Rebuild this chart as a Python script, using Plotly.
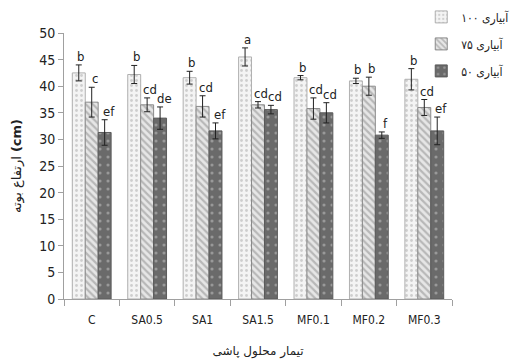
import plotly.graph_objects as go

categories = ["C", "SA0.5", "SA1", "SA1.5", "MF0.1", "MF0.2", "MF0.3"]
series_names = ["آبیاری ۱۰۰", "آبیاری ۷۵", "آبیاری ۵۰"]

irr100 = [42.5, 42.2, 41.6, 45.5, 41.6, 41.0, 41.3]
irr75 = [37.0, 36.5, 36.2, 36.5, 35.8, 40.0, 36.0]
irr50 = [31.3, 34.0, 31.6, 35.6, 35.0, 30.8, 31.6]

err100 = [1.5, 1.7, 1.2, 1.7, 0.4, 0.5, 2.0]
err75 = [2.8, 1.3, 2.0, 0.6, 2.0, 1.7, 1.5]
err50 = [2.4, 2.1, 1.5, 0.8, 1.9, 0.6, 2.6]

letters100 = ["b", "b", "b", "a", "b", "b", "b"]
letters75 = ["c", "cd", "cd", "cd", "cd", "b", "cd"]
letters50 = ["ef", "de", "ef", "cd", "cd", "f", "ef"]

values = [irr100, irr75, irr50]
errors = [err100, err75, err50]
letters = [letters100, letters75, letters50]

styles = [
    dict(color="#ffffff", line=dict(color="#b0b0b0", width=1),
         pattern=dict(shape=".", fgcolor="#a8a8a8", bgcolor="#f4f4f4", size=5, solidity=0.25)),
    dict(color="#d8d8d8", line=dict(color="#8a8a8a", width=1),
         pattern=dict(shape="\\", fgcolor="#8a8a8a", bgcolor="#e6e6e6", size=5, solidity=0.45)),
    dict(color="#707070", line=dict(color="#5a5a5a", width=1),
         pattern=dict(shape=".", fgcolor="#c8c8c8", bgcolor="#6a6a6a", size=8, solidity=0.12)),
]

fig = go.Figure()
for i in range(3):
    fig.add_trace(go.Bar(
        x=categories, y=values[i], name=series_names[i], legendgroup=f"g{i}",
        marker=styles[i],
        error_y=dict(type="data", array=errors[i], color="#222222", thickness=1, width=3),
    ))

bargap = 0.3
cat_px = (452 - 64) / len(categories)
bar_px = cat_px * (1 - bargap) / 3
for i in range(3):
    for j, c in enumerate(categories):
        fig.add_annotation(
            x=c, y=values[i][j] + errors[i][j], xref="x", yref="y",
            text=letters[i][j], showarrow=False, yanchor="bottom",
            xshift=(i - 1) * bar_px + 2 + i, yshift=-1,
            font=dict(family="DejaVu Sans Condensed, sans-serif", size=13, color="#222222"),
        )

fig.update_layout(
    width=517, height=363,
    margin=dict(l=64, r=65, t=33, b=64, autoexpand=False),
    paper_bgcolor="white", plot_bgcolor="white",
    barmode="group", bargap=bargap, bargroupgap=0,
    showlegend=True,
    legend=dict(x=1.163, y=1.115, xanchor="right", yanchor="top",
                font=dict(family="DejaVu Sans Condensed, DejaVu Sans", size=12, color="#222222"),
                bgcolor="rgba(0,0,0,0)", traceorder="grouped", tracegroupgap=8,
                itemwidth=30),
    xaxis=dict(
        showline=True, linecolor="#a0a0a0", linewidth=1,
        ticks="outside", tickson="boundaries", ticklen=6, tickcolor="#a0a0a0",
        ticklabelstandoff=10,
        tickfont=dict(family="DejaVu Sans Condensed, sans-serif", size=12, color="#222222"),
        title=dict(text="تیمار محلول پاشی", font=dict(family="DejaVu Sans", size=12, color="#222222"), standoff=20),
    ),
    yaxis=dict(
        range=[0, 50], dtick=5, showgrid=False, zeroline=False,
        showline=True, linecolor="#a0a0a0", linewidth=1,
        ticks="outside", ticklen=5, tickcolor="#a0a0a0",
        tickfont=dict(family="DejaVu Sans Condensed, sans-serif", size=14, color="#222222"),
        title=dict(text="ارتفاع بوته <b>(cm)</b>", font=dict(family="DejaVu Sans", size=13, color="#222222"), standoff=14),
    ),
)

fig.write_html("out.html")
